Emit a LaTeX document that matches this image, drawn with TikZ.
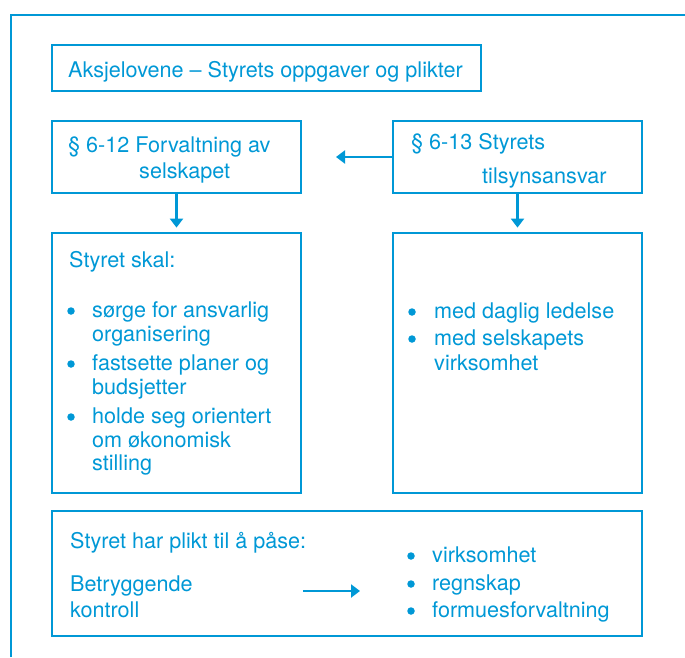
\documentclass[tikz,border=0pt]{standalone}
\usepackage{fontspec}
\setmainfont{TeX Gyre Heros}
\usetikzlibrary{arrows.meta}
\definecolor{styreblue}{RGB}{0,152,214}

\begin{document}
\begin{tikzpicture}[x=1pt, y=-1pt,
    box/.style={draw=styreblue, line width=2.8pt, rectangle, inner sep=0pt},
    txt/.style={anchor=base west, inner sep=0pt, text=styreblue, font=\fontsize{21.6}{26}\selectfont},
    dot/.style={circle, fill=styreblue, inner sep=0pt, minimum size=7.5pt},
    pil/.style={draw=styreblue, line width=2.6pt, -{Triangle[width=13pt,length=9pt]}}]
    \useasboundingbox (0,0) rectangle (685,657);

    % Draw the outer frame
    \draw[styreblue, line width=2.8pt] (11,657) -- (11,15) -- (685,15);

    % Draw the boxes
    \node[box, minimum width=429pt, minimum height=46pt] (title) at (266.5,68) {};
    \node[box, minimum width=249pt, minimum height=72pt] (forvaltning) at (176.5,157) {};
    \node[box, minimum width=249pt, minimum height=72pt] (tilsyn) at (517.5,157) {};
    \node[box, minimum width=249pt, minimum height=260pt] (skal) at (176.5,363) {};
    \node[box, minimum width=249pt, minimum height=260pt] (daglig) at (517.5,363) {};
    \node[box, minimum width=590pt, minimum height=125pt] (plikt) at (347,573.5) {};

    % Texts of the boxes
    \node[txt] (title-t) at (68,77) {Aksjelovene – Styrets oppgaver og plikter};
    \node[txt] (forvaltning-t1) at (68,152) {§ 6-12 Forvaltning av};
    \node[txt] (forvaltning-t2) at (139,178) {selskapet};
    \node[txt] (tilsyn-t1) at (411,149) {§ 6-13 Styrets};
    \node[txt] (tilsyn-t2) at (482,183) {tilsynsansvar};
    \node[txt] (skal-t) at (69,267) {Styret skal:};
    \node[txt] (plikt-t1) at (70,548) {Styret har plikt til å påse:};
    \node[txt] (plikt-t2) at (70,591) {Betryggende};
    \node[txt] (plikt-t3) at (70,617) {kontroll};

    % Bullet lists
    \foreach \y/\linje [count=\i] in {317/sørge for ansvarlig, 341/organisering, 370/fastsette planer og, 394/budsjetter, 423/holde seg orientert, 447/om økonomisk, 470/stilling}
        \node[txt] (skal-\i) at (92,\y) {\linje};
    \foreach \y [count=\i] in {317, 370, 423}
        \node[dot] (skal-b\i) at (71,\y-6) {};

    \foreach \y/\linje [count=\i] in {318/med daglig ledelse, 345/med selskapets, 370/virksomhet}
        \node[txt] (daglig-\i) at (434,\y) {\linje};
    \foreach \y [count=\i] in {318, 345}
        \node[dot] (daglig-b\i) at (412,\y-6) {};

    \foreach \y/\linje [count=\i] in {562/virksomhet, 590/regnskap, 617/formuesforvaltning}
    {
        \node[txt] (omr-\i) at (432,\y) {\linje};
        \node[dot] (omr-b\i) at (411,\y-6) {};
    }

    % Connect the boxes
    \coordinate (tilsyn-end) at (336,157);
    \coordinate (kontroll-start) at (303,591);
    \coordinate (kontroll-end) at (360,591);
    \draw[pil] (tilsyn.west) -- (tilsyn-end);
    \draw[pil, shorten >=4pt] (forvaltning.south) -- (skal.north);
    \draw[pil, shorten >=4pt] (tilsyn.south) -- (daglig.north);
    \draw[pil] (kontroll-start) -- (kontroll-end);
\end{tikzpicture}
\end{document}
